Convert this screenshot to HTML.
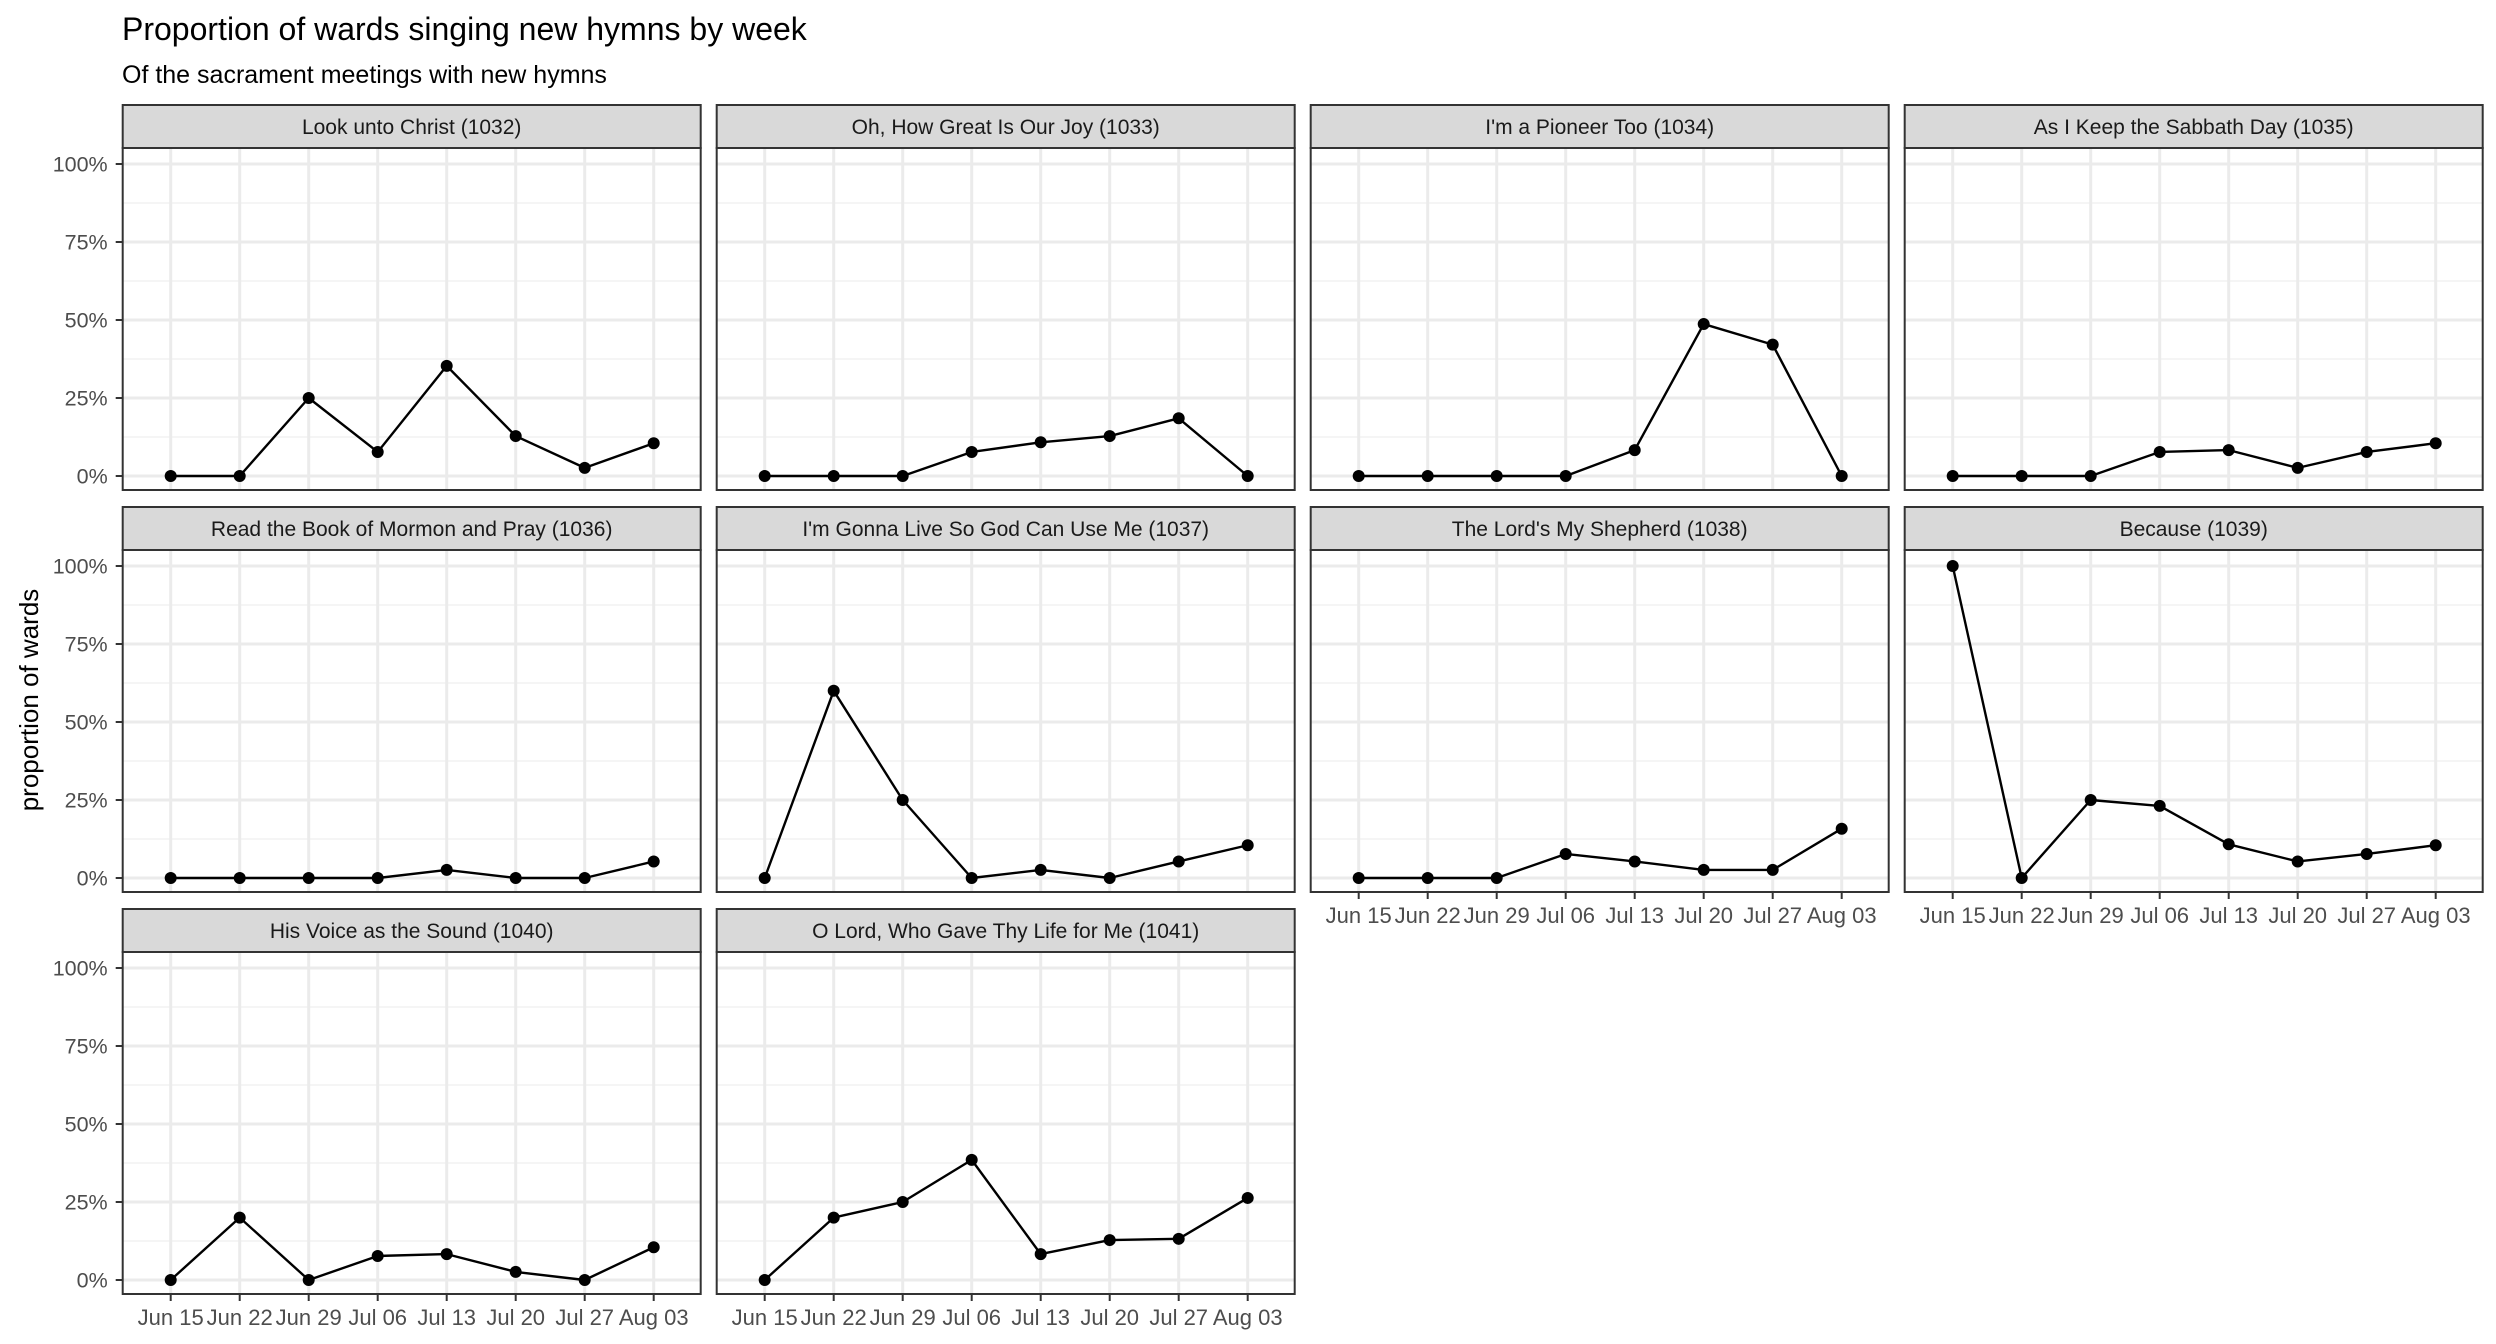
<!DOCTYPE html>
<html><head><meta charset="utf-8"><style>
body{margin:0;background:#fff;}
svg{display:block;font-family:"Liberation Sans",Arial,sans-serif;}
</style></head><body>
<svg id="chart" width="2496" height="1344" viewBox="0 0 2496 1344" xmlns="http://www.w3.org/2000/svg">
<text x="122" y="40" font-size="32" fill="#000">Proportion of wards singing new hymns by week</text>
<text x="122" y="83" font-size="25" fill="#000">Of the sacrament meetings with new hymns</text>
<text x="0" y="0" font-size="26" fill="#000" text-anchor="middle" transform="translate(38,700) rotate(-90)">proportion of wards</text>
</svg>
<script>
const dates = ["Jun 15","Jun 22","Jun 29","Jul 06","Jul 13","Jul 20","Jul 27","Aug 03"];
const hymns = ["Look unto Christ (1032)","Oh, How Great Is Our Joy (1033)","I'm a Pioneer Too (1034)","As I Keep the Sabbath Day (1035)","Read the Book of Mormon and Pray (1036)","I'm Gonna Live So God Can Use Me (1037)","The Lord's My Shepherd (1038)","Because (1039)","His Voice as the Sound (1040)","O Lord, Who Gave Thy Life for Me (1041)"];
const s1032 = [0,0,25,7.7,35.3,12.8,2.6,10.5];
const s1033 = [0,0,0,7.7,10.8,12.8,18.5,0];
const s1034 = [0,0,0,0,8.3,48.7,42.1,0];
const s1035 = [0,0,0,7.7,8.3,2.6,7.7,10.5];
const s1036 = [0,0,0,0,2.6,0,0,5.3];
const s1037 = [0,60,25,0,2.6,0,5.3,10.5];
const s1038 = [0,0,0,7.7,5.3,2.6,2.6,15.8];
const s1039 = [100,0,25,23.1,10.8,5.3,7.7,10.5];
const s1040 = [0,20,0,7.7,8.3,2.6,0,10.5];
const s1041 = [0,20,25,38.5,8.3,12.8,13.2,26.3];
const yTicks = [0,25,50,75,100];
const yTickLabels = ["0%","25%","50%","75%","100%"];
const series = [s1032,s1033,s1034,s1035,s1036,s1037,s1038,s1039,s1040,s1041];

const NS="http://www.w3.org/2000/svg";
const svg=document.getElementById('chart');
function mk(tag,attrs,parent){const e=document.createElementNS(NS,tag);for(const k in attrs)e.setAttribute(k,attrs[k]);(parent||svg).appendChild(e);return e;}

const PW=578, GAP=16, LEFT0=122.7, STRIP=43, BODY=342, ROW0=105, RPITCH=402;
const nCols=4;
hymns.forEach((name,i)=>{
  const col=i%nCols,row=Math.floor(i/nCols);
  const L=LEFT0+col*(PW+GAP), R=L+PW;
  const sT=ROW0+row*RPITCH, bT=sT+STRIP, bB=bT+BODY;
  const xs=d=>L+48+d*((PW-95)/(dates.length-1));
  const ys=v=>bT+16+(100-v)/100*(BODY-30);
  const g=mk('g',{});
  
  
  // strip
  const st=mk('rect',{x:L,y:sT,width:PW,height:STRIP,fill:'#d9d9d9',stroke:'#333',"stroke-width":2},g);
  
  
  const tt=mk('text',{x:(L+R)/2,y:sT+29,"font-size":21,fill:'#1a1a1a',"text-anchor":'middle'},g);
  tt.textContent=name;
  
  
  // grid
  for(let v=12.5;v<100;v+=25){mk('line',{x1:L,x2:R,y1:ys(v),y2:ys(v),stroke:'#f2f2f2',"stroke-width":1.5},g);}
  yTicks.forEach(v=>{mk('line',{x1:L,x2:R,y1:ys(v),y2:ys(v),stroke:'#ebebeb',"stroke-width":3},g);});
  dates.forEach((d,j)=>{mk('line',{x1:xs(j),x2:xs(j),y1:bT,y2:bB,stroke:'#ebebeb',"stroke-width":3},g);});
  // y axis labels on first column
  if(col===0){
    yTicks.forEach((v,j)=>{
      mk('line',{x1:L-7,x2:L,y1:ys(v),y2:ys(v),stroke:'#333',"stroke-width":2},g);
      const t=mk('text',{x:L-15,y:ys(v)+7.5,"font-size":21.5,fill:'#4d4d4d',"text-anchor":'end'},g);
      t.textContent=yTickLabels[j];
      
      
    });
  }
  // x axis labels for bottom panels in column
  const isBottom = (i+nCols)>=hymns.length;
  if(isBottom){
    dates.forEach((d,j)=>{
      mk('line',{x1:xs(j),x2:xs(j),y1:bB,y2:bB+7,stroke:'#333',"stroke-width":2},g);
      const t=mk('text',{x:xs(j),y:bB+31,"font-size":22,fill:'#4d4d4d',"text-anchor":'middle'},g);
      t.textContent=d;
      
      
    });
  }
  // line
  const s=series[i];
  const pl=mk('polyline',{points:s.map((v,j)=>xs(j)+','+ys(v)).join(' '),fill:'none',stroke:'#000',"stroke-width":2.4,"stroke-linejoin":'round'},g);
  
  
  s.forEach((v,j)=>{
    const c=mk('circle',{cx:xs(j),cy:ys(v),r:6,fill:'#000'},g);
    
    
  });
  // border
  mk('rect',{x:L,y:bT,width:PW,height:BODY,fill:'none',stroke:'#333',"stroke-width":2},g);
});
</script>
</body></html>
